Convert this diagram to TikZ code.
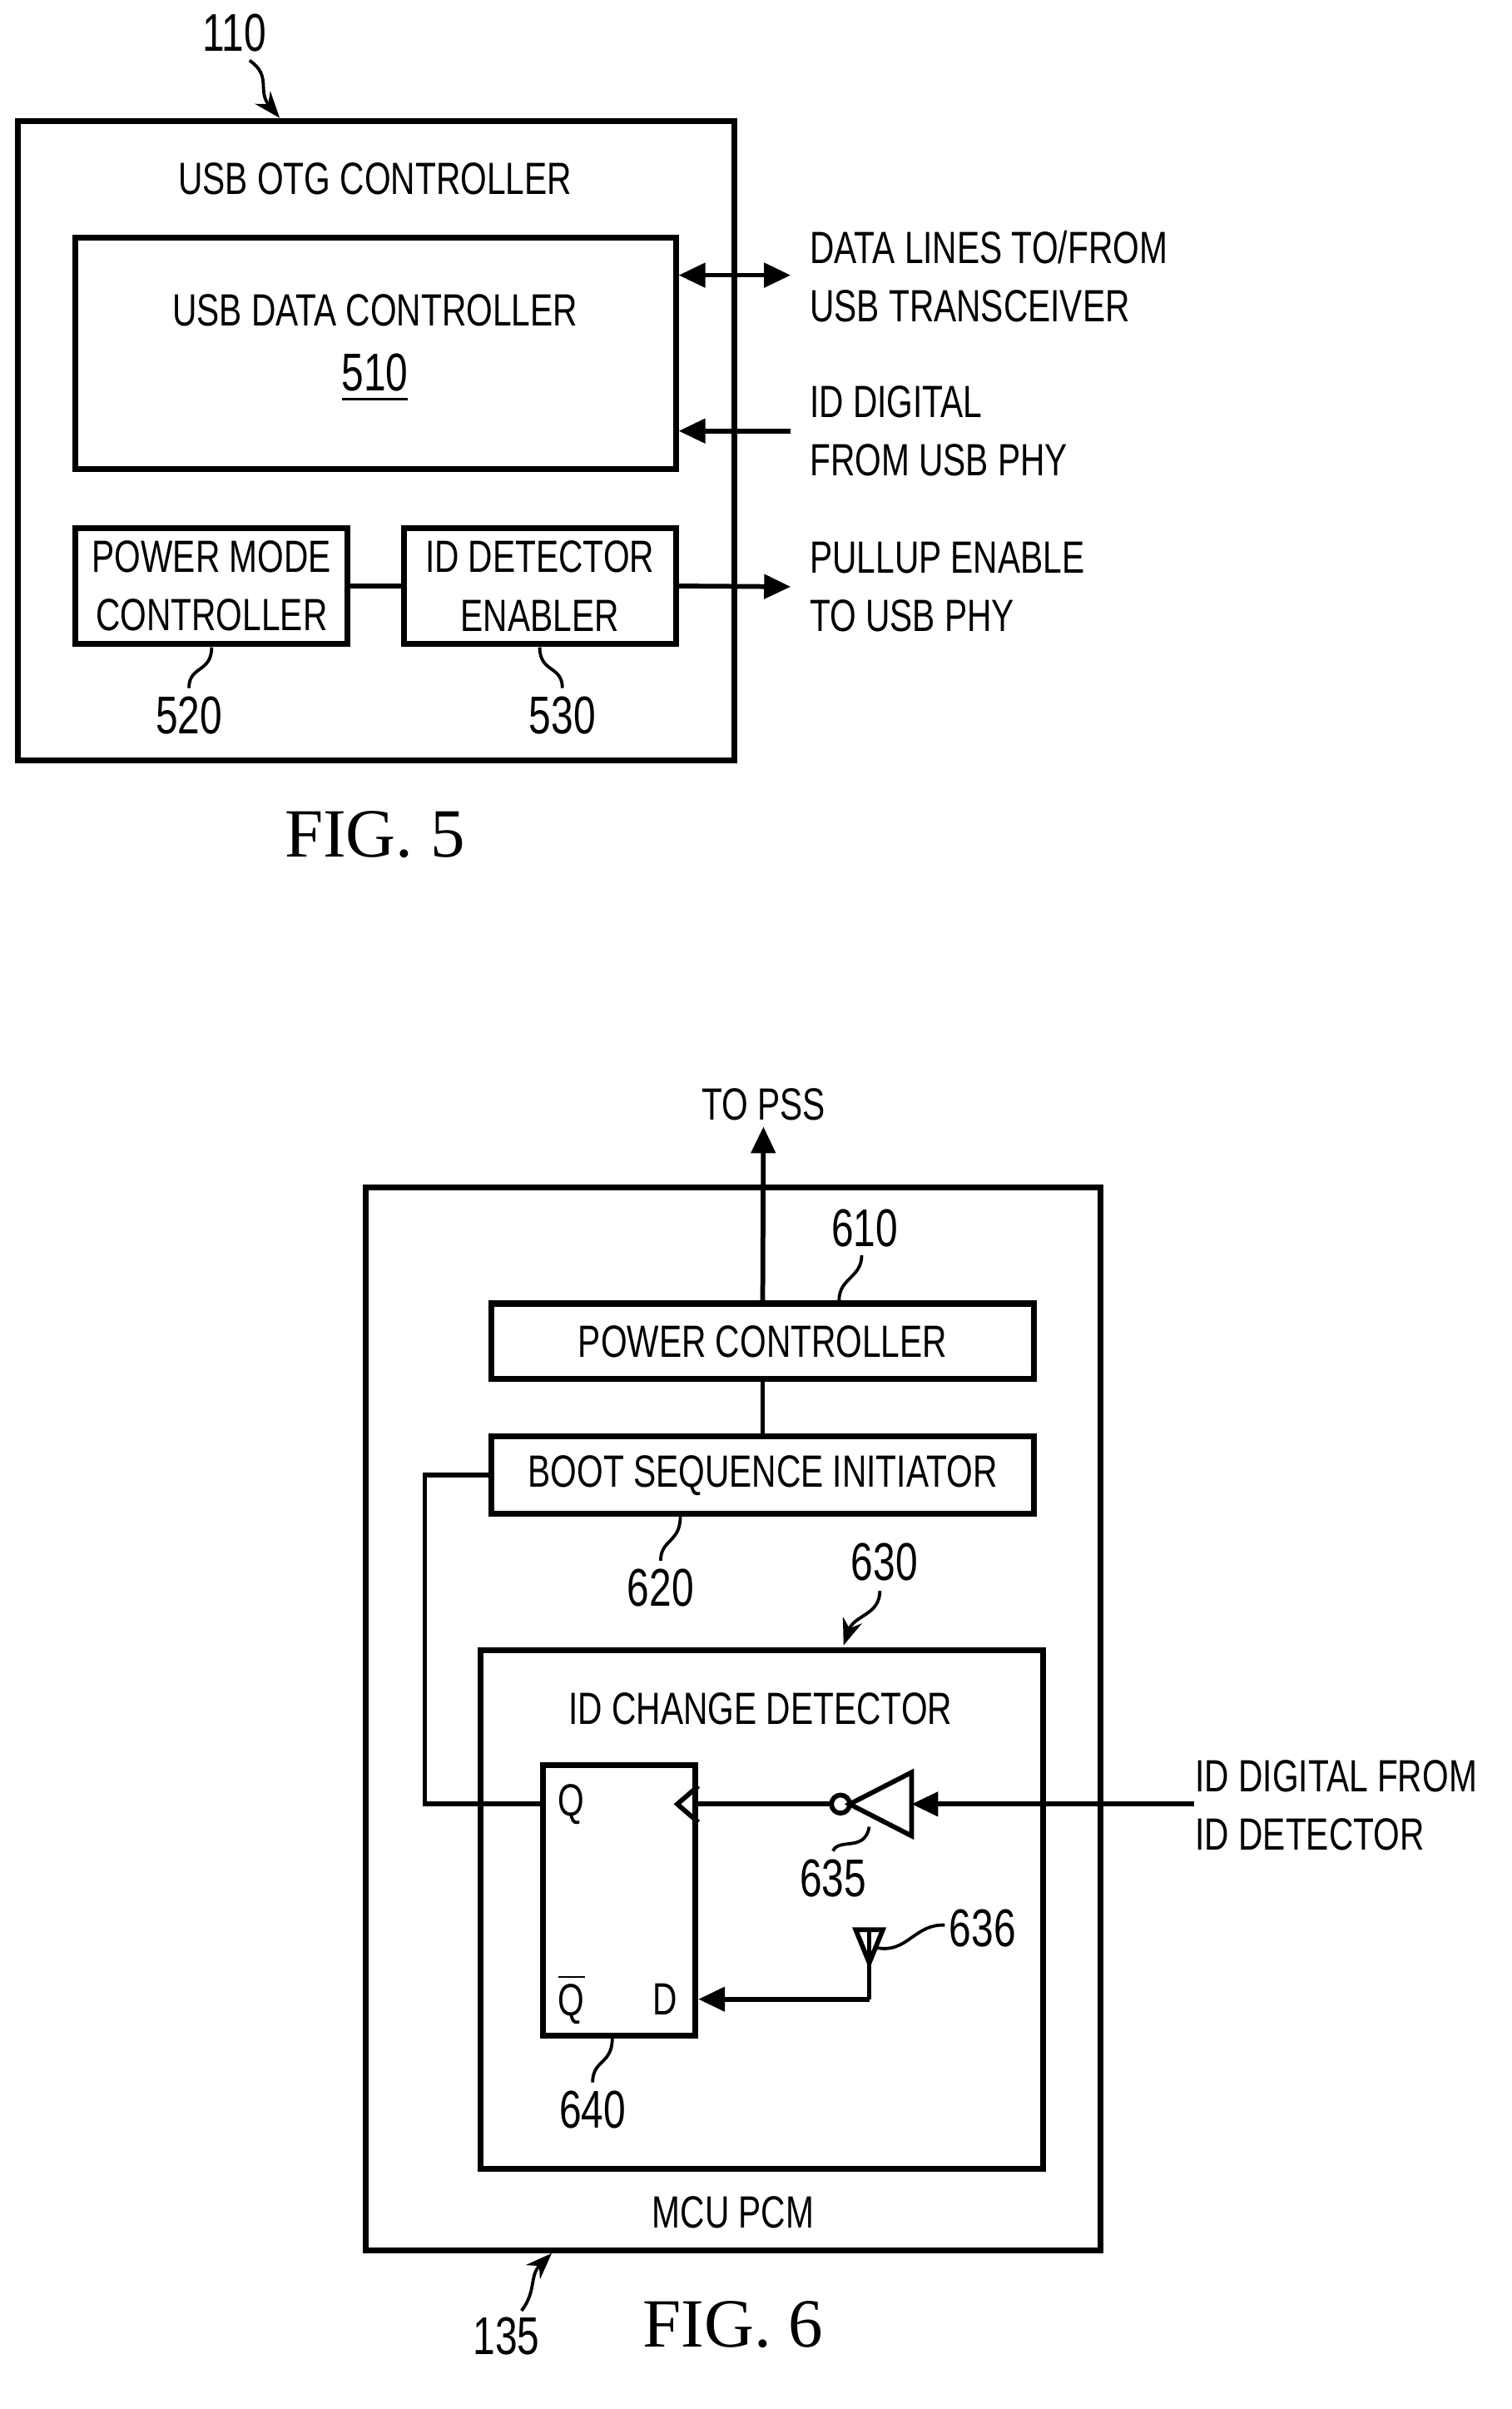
\documentclass[tikz,border=0pt]{standalone}
\usepackage{fontspec}
\setmainfont{Liberation Sans}[FakeStretch=0.75]
\newfontfamily\figfont{Liberation Serif}
\usetikzlibrary{arrows.meta, positioning, calc}
\tikzset{
  block/.style={rectangle, draw=black, line width=1.1pt, inner sep=0pt},
  lbl/.style={font=\fontsize{8.5}{11}\selectfont, align=center, inner sep=1pt},
  side/.style={font=\fontsize{8.5}{11}\selectfont, align=left, anchor=west, inner sep=0pt},
  num/.style={font=\fontsize{10}{12}\selectfont, inner sep=1pt},
  fig/.style={font=\figfont\fontsize{13}{15}\selectfont},
  wire/.style={line width=0.9pt},
  arrow/.style={line width=0.9pt, -{Triangle[length=5pt, width=4.5pt]}},
  leader/.style={line width=0.6pt}
}
\begin{document}
\begin{tikzpicture}[x=0.1mm, y=-0.1mm]
\useasboundingbox (0,0) rectangle (1000,1593);

% FIG. 5
\node (otg) [block, minimum width=474*0.1mm, minimum height=423*0.1mm] at (249,291.5) {};
\node [lbl] at (248,118) {USB OTG CONTROLLER};
\node (data) [block, minimum width=397*0.1mm, minimum height=153*0.1mm] at (248.5,233.5) {};
\node [lbl] at (248,205) {USB DATA CONTROLLER};
\node [num] at (248,250) {\underline{510}};
\node (pmc) [block, lbl, minimum width=180*0.1mm, minimum height=77*0.1mm] at (140,387.5) {POWER MODE\\CONTROLLER};
\node (ide) [block, lbl, minimum width=180*0.1mm, minimum height=77*0.1mm] at (357,387.5) {ID DETECTOR\\ENABLER};
\draw [wire] (pmc) -- (ide);

\coordinate (p1) at (523,182);
\coordinate (p2) at (523,285);
\coordinate (p3) at (523,388);
\draw [wire, {Triangle[length=5pt, width=4.5pt]}-{Triangle[length=5pt, width=4.5pt]}] (data.east |- p1) -- (p1);
\draw [arrow] (p2) -- (data.east |- p2);
\draw [arrow] (ide.east) -- (p3);
\node [side] at (535,183) {DATA LINES TO/FROM\\USB TRANSCEIVER};
\node [side] at (535,285) {ID DIGITAL\\FROM USB PHY};
\node [side] at (535,388) {PULLUP ENABLE\\TO USB PHY};

\node (n110) [num] at (155,22) {110};
\draw [leader, -{Stealth[length=5pt]}] (165,40) .. controls (180,50) and (170,60) .. (185,78);
\node (n520) [num] at (125,473) {520};
\draw [leader] (140,428) .. controls (140,445) and (125,440) .. (125,455);
\node (n530) [num] at (372,473) {530};
\draw [leader] (357,428) .. controls (357,445) and (372,440) .. (372,455);
\node [fig] at (248,552) {FIG. 5};

% FIG. 6
\node (pcm) [block, minimum width=486*0.1mm, minimum height=703*0.1mm] at (485,1136.5) {};
\node [lbl] at (485,1463) {MCU PCM};
\node (pc) [block, lbl, minimum width=359*0.1mm, minimum height=50*0.1mm] at (504.5,887) {POWER CONTROLLER};
\node (bsi) [block, lbl, minimum width=359*0.1mm, minimum height=51*0.1mm] at (504.5,975.5) {BOOT SEQUENCE INITIATOR};
\node (icd) [block, minimum width=372*0.1mm, minimum height=343*0.1mm] at (504,1262.5) {};
\node [lbl] at (503,1130) {ID CHANGE DETECTOR};
\node (ff) [block, minimum width=101*0.1mm, minimum height=179*0.1mm] at (409.5,1256.5) {};
\node [lbl] at (378,1193) {Q};
\node [lbl] at (378,1322) {$\overline{\mbox{Q}}$};
\node [lbl] at (440,1322) {D};
\draw [wire] (ff.east |- 0,1181) -- (448,1193) -- (ff.east |- 0,1205);

\coordinate (pss) at (505,745);
\node [lbl, above=0pt of pss] {TO PSS};
\draw [arrow] (pc.north) -- (pss);
\draw [wire] (pc) -- (bsi);
\coordinate (fb) at (281,1193);
\draw [wire] (bsi.west) -| (fb) -- (ff.west |- fb);

% inverter
\coordinate (inv) at (603,1193);
\draw [wire] (inv |- 0,1172) -- (562,1193) -- (inv |- 0,1214) -- cycle;
\draw [wire] (556,1193) circle[radius=6*0.1mm];
\draw [wire] (550,1193) -- (ff.east |- fb);
\coordinate (idin) at (790,1193);
\draw [arrow] (idin) -- (inv);
\node [side] at (790,1194) {ID DIGITAL FROM\\ID DETECTOR};

% tie-off
\coordinate (tie) at (575,1322);
\draw [wire] (566,1276) -- (584,1276) -- (575,1298) -- cycle;
\draw [wire] (575,1276) -- (575,1298);
\draw [wire] (575,1298) -- (tie);
\draw [arrow] (tie) -- (ff.east |- tie);

\node (n610) [num] at (572,812) {610};
\draw [leader] (570,830) .. controls (570,845) and (555,845) .. (555,860);
\node (n620) [num] at (437,1050) {620};
\draw [leader] (450,1003) .. controls (450,1020) and (437,1018) .. (437,1032);
\node (n630) [num] at (585,1033) {630};
\draw [leader, -{Stealth[length=5pt]}] (582,1052) .. controls (582,1068) and (565,1068) .. (558,1088);
\node (n635) [num] at (551,1242) {635};
\draw [leader] (575,1208) .. controls (572,1225) and (555,1215) .. (551,1224);
\node (n636) [num] at (650,1275) {636};
\draw [leader] (580,1288) .. controls (600,1292) and (605,1272) .. (625,1273);
\node (n640) [num] at (392,1395) {640};
\draw [leader] (405,1348) .. controls (405,1365) and (392,1362) .. (392,1377);
\node (n135) [num] at (335,1545) {135};
\draw [leader, -{Stealth[length=5pt]}] (345,1528) .. controls (355,1515) and (350,1505) .. (365,1490);
\node [fig] at (485,1537) {FIG. 6};
\end{tikzpicture}
\end{document}
